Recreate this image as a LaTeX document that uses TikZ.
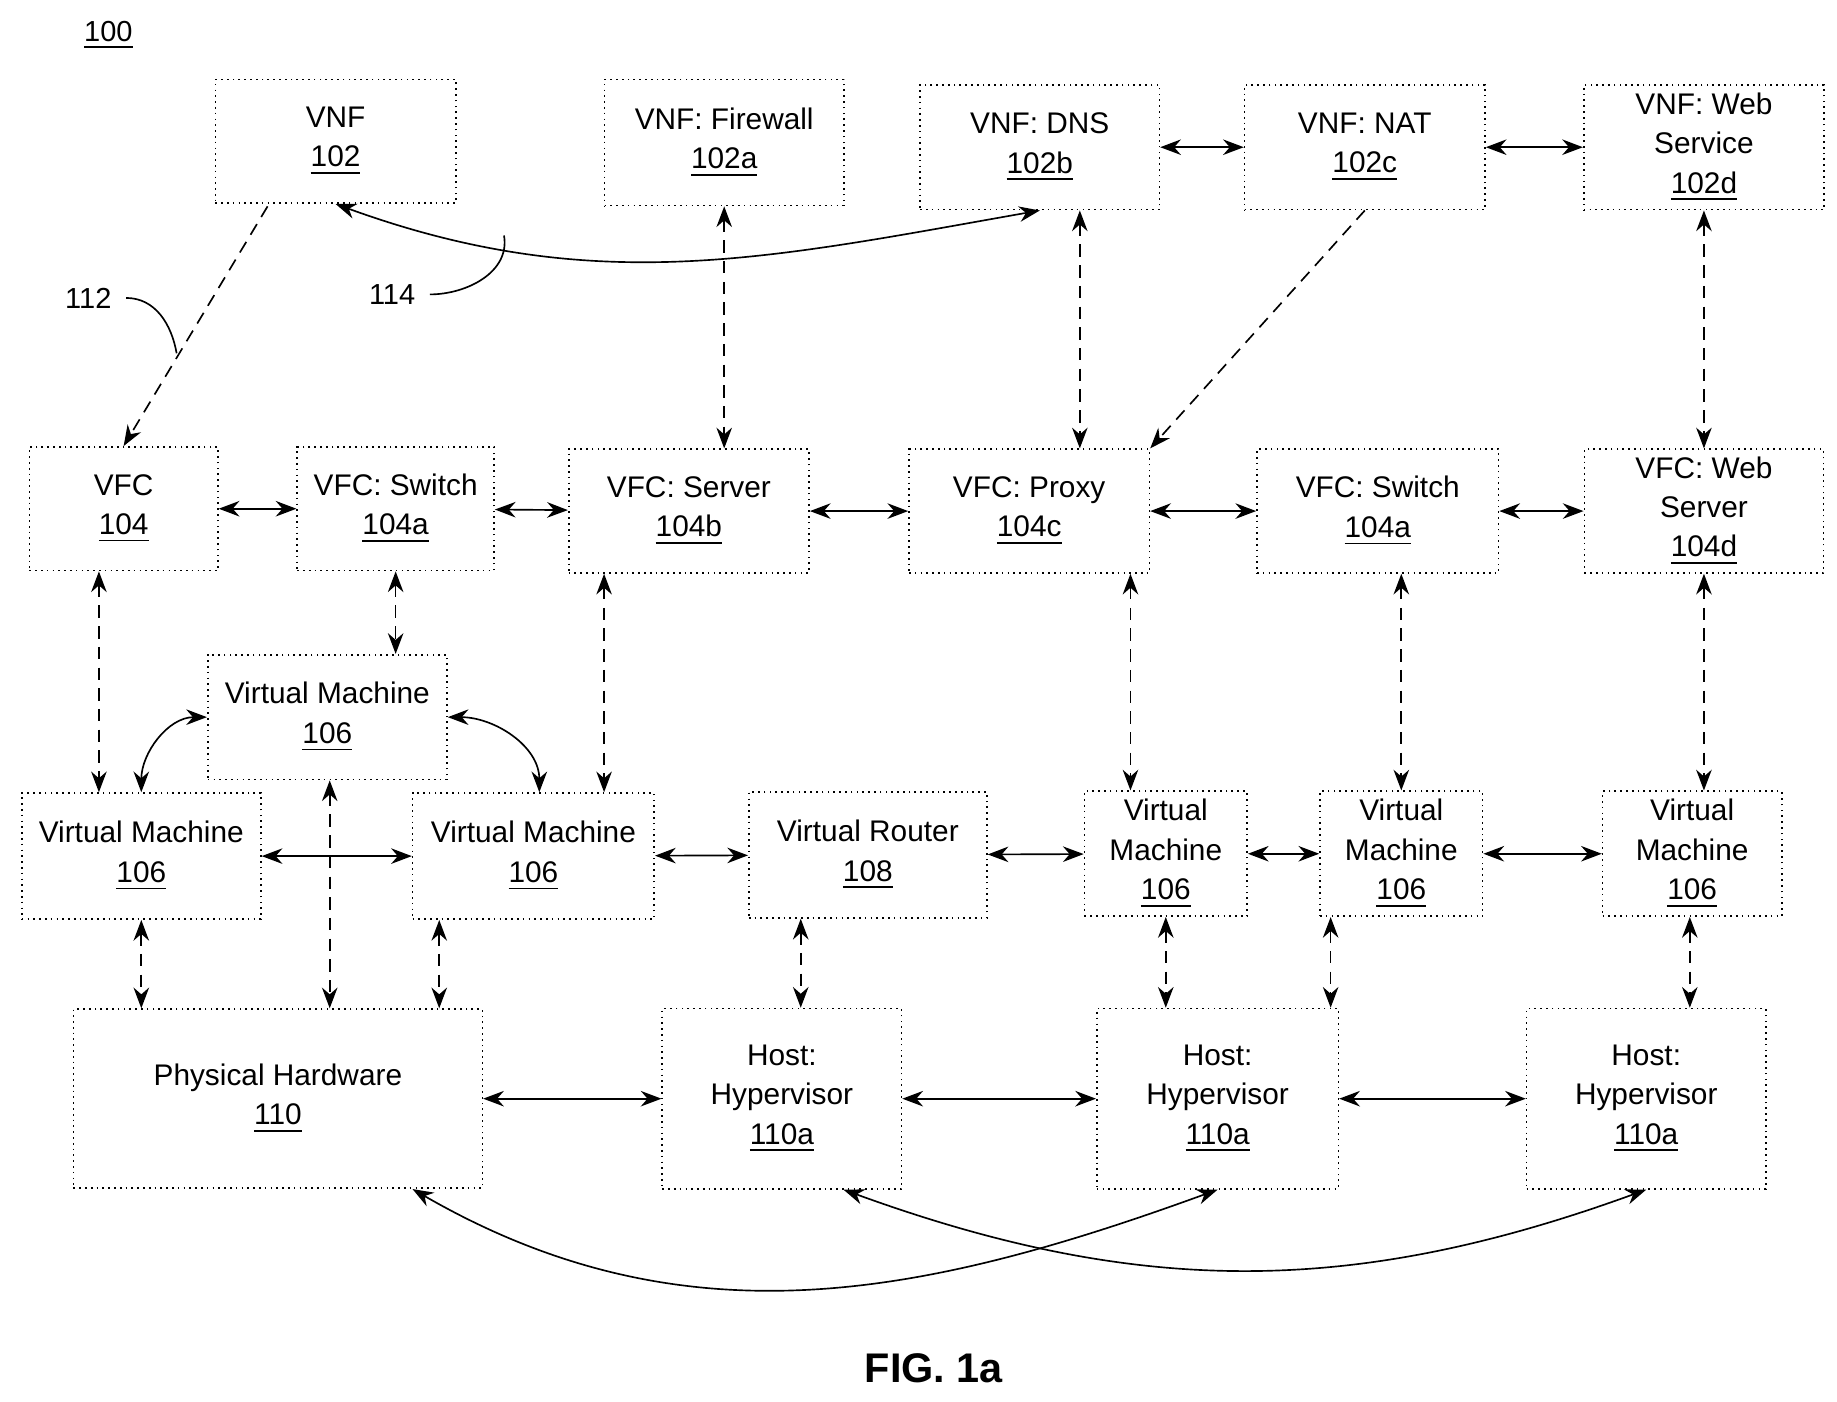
\documentclass[tikz,border=0pt]{standalone}
\usepackage{fontspec}
\setmainfont{Liberation Sans}
\usetikzlibrary{arrows.meta}
\begin{document}
\begin{tikzpicture}[x=0.01cm,y=-0.01cm,
  box/.style={draw,densely dotted,thin,align=center,inner sep=1pt,font=\fontsize{7.2}{9.5}\selectfont},
  link/.style={thin,{Stealth[length=5pt]}-{Stealth[length=5pt]}},
  dlink/.style={link,densely dashed},
  num/.style={font=\fontsize{7}{9}\selectfont}]
\useasboundingbox (0,0) rectangle (1560,1190);
\node[num] (fig) at (92,30) {\underline{100}};
\node[box,minimum width=2.04cm,minimum height=1.05cm] (102) at (285,120) {VNF\\\underline{102}};
\node[box,minimum width=2.03cm,minimum height=1.07cm] (102a) at (615,121) {VNF: Firewall\\\underline{102a}};
\node[box,minimum width=2.03cm,minimum height=1.06cm] (102b) at (883,125) {VNF: DNS\\\underline{102b}};
\node[box,minimum width=2.04cm,minimum height=1.06cm] (102c) at (1159,125) {VNF: NAT\\\underline{102c}};
\node[box,minimum width=2.04cm,minimum height=1.06cm] (102d) at (1447,125) {VNF: Web\\Service\\\underline{102d}};
\node[box,minimum width=1.6cm,minimum height=1.05cm] (104) at (105,432) {VFC\\\underline{104}};
\node[box,minimum width=1.67cm,minimum height=1.05cm] (104a) at (336,432) {VFC: Switch\\\underline{104a}};
\node[box,minimum width=2.04cm,minimum height=1.05cm] (104b) at (585,434) {VFC: Server\\\underline{104b}};
\node[box,minimum width=2.04cm,minimum height=1.05cm] (104c) at (874,434) {VFC: Proxy\\\underline{104c}};
\node[box,minimum width=2.05cm,minimum height=1.05cm] (104e) at (1170,434) {VFC: Switch\\\underline{104a}};
\node[box,minimum width=2.03cm,minimum height=1.05cm] (104d) at (1447,434) {VFC: Web\\Server\\\underline{104d}};
\node[box,minimum width=2.03cm,minimum height=1.06cm] (vm0) at (278,609) {Virtual Machine\\\underline{106}};
\node[box,minimum width=2.03cm,minimum height=1.07cm] (vm1) at (120,727) {Virtual Machine\\\underline{106}};
\node[box,minimum width=2.05cm,minimum height=1.07cm] (vm2) at (453,727) {Virtual Machine\\\underline{106}};
\node[box,minimum width=2.02cm,minimum height=1.07cm] (108) at (737,726) {Virtual Router\\\underline{108}};
\node[box,minimum width=1.38cm,minimum height=1.06cm] (vm3) at (990,725) {Virtual\\Machine\\\underline{106}};
\node[box,minimum width=1.38cm,minimum height=1.06cm] (vm4) at (1190,725) {Virtual\\Machine\\\underline{106}};
\node[box,minimum width=1.52cm,minimum height=1.06cm] (vm5) at (1437,725) {Virtual\\Machine\\\underline{106}};
\node[box,minimum width=3.47cm,minimum height=1.52cm] (110) at (236,933) {Physical Hardware\\\underline{110}};
\node[box,minimum width=2.03cm,minimum height=1.53cm] (h1) at (664,933) {Host:\\Hypervisor\\\underline{110a}};
\node[box,minimum width=2.05cm,minimum height=1.53cm] (h2) at (1034,933) {Host:\\Hypervisor\\\underline{110a}};
\node[box,minimum width=2.03cm,minimum height=1.53cm] (h3) at (1398,933) {Host:\\Hypervisor\\\underline{110a}};
\node[font=\bfseries\fontsize{10}{12}\selectfont] (cap) at (793,1162) {FIG. 1a};
\node[num] (112) at (75,253) {112};
\node[num] (114) at (333,250) {114};
% horizontal links
\draw[link] (104) -- (104a);
\draw[link] (104a) -- (104b);
\draw[link] (104b) -- (104c);
\draw[link] (104c) -- (104e);
\draw[link] (104e) -- (104d);
\draw[link] (102b) -- (102c);
\draw[link] (102c) -- (102d);
\draw[link] (vm1) -- (vm2);
\draw[link] (vm2) -- (108);
\draw[link] (108) -- (vm3);
\draw[link] (vm3) -- (vm4);
\draw[link] (vm4) -- (vm5);
\draw[link] (110) -- (h1);
\draw[link] (h1) -- (h2);
\draw[link] (h2) -- (h3);
% vertical links
\draw[dlink,-{Stealth[length=5pt]}] (102.south west)++(45,2) coordinate (a0) (a0) -- (104.north);
\draw[dlink] (102a) -- (104b.north -| 102a);
\draw[dlink] (102b.south -| 917,0) -- (104c.north -| 917,0);
\draw[dlink,-{Stealth[length=5pt]}] (102c.south) -- (104c.north east);
\draw[dlink] (102d) -- (104d);
\draw[dlink] (104.south -| 84,0) -- (vm1.north -| 84,0);
\draw[dlink] (104a) -- (vm0.north -| 104a);
\draw[dlink] (104b.south -| 513,0) -- (vm2.north -| 513,0);
\draw[dlink] (104c.south -| 960,0) -- (vm3.north -| 960,0);
\draw[dlink] (104e.south -| vm4) -- (vm4);
\draw[dlink] (104d) -- (vm5.north -| 104d);
\draw[dlink] (vm0.south -| 280,0) -- (110.north -| 280,0);
\draw[dlink] (vm1) -- (110.north -| vm1);
\draw[dlink] (vm2.south -| 373,0) -- (110.north -| 373,0);
\draw[dlink] (108.south -| 680,0) -- (h1.north -| 680,0);
\draw[dlink] (vm3) -- (h2.north -| vm3);
\draw[dlink] (vm4.south -| 1130,0) -- (h2.north -| 1130,0);
\draw[dlink] (vm5.south -| 1435,0) -- (h3.north -| 1435,0);
% curved links
\draw[link] (vm0.west) to[out=180,in=90] (vm1.north);
\draw[link] (vm0.east) to[out=0,in=90] (vm2.north -| 458,0);
\draw[link] (102.south) to[out=-20,in=190] (102b.south);
\draw[link] (110.south east) ++(-60,0) coordinate (b0) (b0) to[out=-30,in=200] (h2.south);
\draw[link] (h1.south east) ++(-50,0) coordinate (b1) (b1) to[out=-20,in=200] (h3.south);
\draw[thin] (112.east) to[out=0,in=100] (150,300);
\draw[thin] (114.east) to[out=0,in=-80] (428,200);
\end{tikzpicture}
\end{document}
